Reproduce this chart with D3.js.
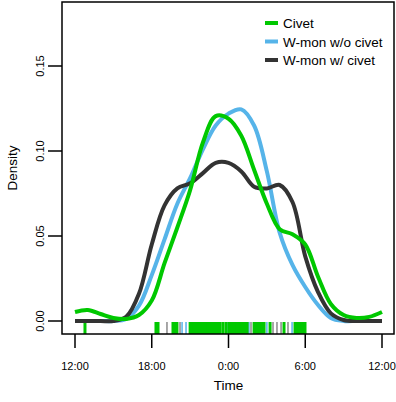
<!DOCTYPE html>
<html>
<head>
<meta charset="utf-8">
<script src="https://cdn.jsdelivr.net/npm/d3@7"></script>
<style>
  body { margin: 0; background: white; }
  svg { display: block; font-family: 'Liberation Sans', Arial, sans-serif; }
</style>
</head>
<body>
<main></main>
<script>
// hours after 12:00 noon
const hours = [0, 1, 2, 3, 4, 5, 6, 7, 8, 9, 10, 11, 12, 13, 14, 15, 16, 17, 18, 19, 20, 21, 22, 23, 24];
const civet = [0.0053, 0.0065, 0.0041, 0.0018, 0.0012, 0.0035, 0.012, 0.034, 0.055, 0.077, 0.105, 0.1205, 0.119, 0.109, 0.089, 0.069, 0.054, 0.051, 0.045, 0.026, 0.010, 0.0035, 0.0018, 0.0024, 0.0053];
const wmonWithout = [0, 0, 0, 0, 0.0012, 0.009, 0.027, 0.048, 0.069, 0.084, 0.101, 0.115, 0.122, 0.1245, 0.115, 0.088, 0.052, 0.033, 0.020, 0.0094, 0.0018, 0, 0, 0, 0];
const wmonWith = [0, 0, 0, 0, 0.0024, 0.016, 0.045, 0.068, 0.078, 0.081, 0.087, 0.093, 0.093, 0.088, 0.079, 0.078, 0.080, 0.070, 0.038, 0.017, 0.0045, 0.0006, 0, 0, 0];

const civetRug = [0.78, 6.33, 6.49, 7.66, 7.82, 7.97, 9.0, 9.15, 9.3, 9.46, 9.62, 9.77, 9.93, 10.09, 10.24, 10.4, 10.55, 10.71, 10.87, 11.02, 11.18, 11.34, 11.57, 11.81, 12.04, 12.2, 12.35, 12.51, 12.67, 12.82, 12.98, 13.14, 13.29, 13.45, 14.0, 14.15, 14.31, 14.46, 14.62, 14.78, 15.25, 16.34, 17.2, 17.36, 17.51, 17.67, 17.83, 17.98];
const withoutRug = [8.37, 8.68, 9.38, 11.88, 13.6, 15.0, 16.97];
const withRug = [7.19, 8.21, 13.53, 13.76, 15.48, 15.79, 16.11, 16.65];

const xTicks = [0, 6, 12, 18, 24];
const xTickLabels = ['12:00', '18:00', '0:00', '6:00', '12:00'];
const yTicks = [0, 0.05, 0.10, 0.15];
const seriesNames = ['Civet', 'W-mon w/o civet', 'W-mon w/ civet'];

const width = 396;
const height = 402;
const boxLeft = 62;
const boxRight = 394;
const boxTop = 2;
const boxBottom = 334;
const green = '#00c800';
const blue = '#56b4e9';
const dark = '#333333';

const xScale = d3.scaleLinear()
  .domain([0, 24])
  .range([boxLeft + 13, boxRight - 12]);

const yScale = d3.scaleLinear()
  .domain([0, 0.15])
  .range([321, 66]);

const svg = d3.select('main')
  .append('svg')
  .attr('width', width)
  .attr('height', height);

// rugs
const rugs = [
  { data: withRug, color: '#8a8a8a', w: 1.5 },
  { data: withoutRug, color: blue, w: 1.5 },
  { data: civetRug, color: green, w: 3 }
];
rugs.forEach(r => {
  svg.append('g')
    .selectAll('line')
    .data(r.data)
    .enter()
    .append('line')
    .attr('x1', d => xScale(d))
    .attr('x2', d => xScale(d))
    .attr('y1', boxBottom)
    .attr('y2', boxBottom - 12)
    .style('stroke', r.color)
    .style('stroke-width', r.w);
});

// density curves
const line = d3.line()
  .x((d, i) => xScale(hours[i]))
  .y(d => yScale(Math.max(0, d)))
  .curve(d3.curveCatmullRom.alpha(0.5));

[[wmonWithout, blue], [wmonWith, dark], [civet, green]].forEach(([vals, color]) => {
  svg.append('path')
    .datum(vals)
    .attr('d', line)
    .style('fill', 'none')
    .style('stroke', color)
    .style('stroke-width', 4)
    .style('stroke-linejoin', 'round');
});

// box
svg.append('rect')
  .attr('x', boxLeft)
  .attr('y', boxTop)
  .attr('width', boxRight - boxLeft)
  .attr('height', boxBottom - boxTop)
  .style('fill', 'none')
  .style('stroke', 'black')
  .style('stroke-width', 1.5);

// x axis
const xAxis = svg.append('g').attr('id', 'x-axis');
xAxis.selectAll('line')
  .data(xTicks)
  .enter()
  .append('line')
  .attr('x1', d => xScale(d))
  .attr('x2', d => xScale(d))
  .attr('y1', boxBottom)
  .attr('y2', boxBottom + 14)
  .style('stroke', 'black')
  .style('stroke-width', 1.5);
xAxis.selectAll('text')
  .data(xTicks)
  .enter()
  .append('text')
  .attr('x', d => xScale(d))
  .attr('y', 370)
  .attr('text-anchor', 'middle')
  .style('font-size', '11px')
  .text((d, i) => xTickLabels[i]);

// y axis
const yAxis = svg.append('g').attr('id', 'y-axis');
yAxis.selectAll('line')
  .data(yTicks)
  .enter()
  .append('line')
  .attr('x1', boxLeft - 14)
  .attr('x2', boxLeft)
  .attr('y1', d => yScale(d))
  .attr('y2', d => yScale(d))
  .style('stroke', 'black')
  .style('stroke-width', 1.5);
yAxis.selectAll('text')
  .data(yTicks)
  .enter()
  .append('text')
  .attr('transform', d => `translate(44, ${yScale(d)}) rotate(-90)`)
  .attr('text-anchor', 'middle')
  .style('font-size', '11px')
  .text(d => d3.format('.2f')(d));

// axis titles
svg.append('text')
  .text('Time')
  .attr('x', xScale(12))
  .attr('y', 390)
  .attr('text-anchor', 'middle')
  .style('font-size', '13.5px');

svg.append('text')
  .text('Density')
  .attr('transform', `translate(17, ${(boxTop + boxBottom) / 2}) rotate(-90)`)
  .attr('text-anchor', 'middle')
  .style('font-size', '13.5px');

// legend
const legend = svg.append('g')
  .attr('transform', 'translate(265, 23)');
[green, blue, dark].forEach((color, i) => {
  legend.append('line')
    .attr('x1', 0)
    .attr('x2', 13)
    .attr('y1', i * 18.5)
    .attr('y2', i * 18.5)
    .style('stroke', color)
    .style('stroke-width', 4);
  legend.append('text')
    .text(seriesNames[i])
    .attr('x', 18)
    .attr('y', i * 18.5 + 5)
    .style('font-size', '13.5px');
});
</script>
</body>
</html>
